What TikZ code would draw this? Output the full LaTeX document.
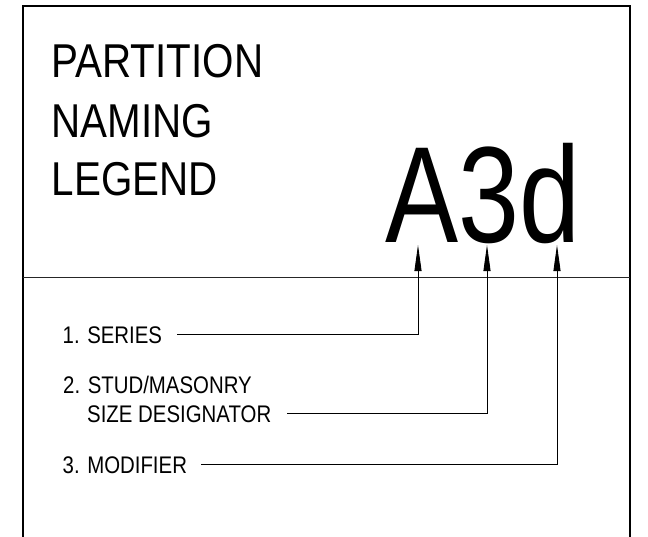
\documentclass[tikz,border=0pt]{standalone}
\usepackage{fontspec}
\setmainfont{Liberation Sans}[FakeStretch=0.85]
\newfontfamily\bigcodefont{Liberation Sans}[FakeStretch=0.80]
\usetikzlibrary{arrows.meta}
\tikzset{
  frame/.style={line width=1.2pt, black},
  divider/.style={line width=1pt, black!85},
  conn/.style={line width=0.9pt, black, -{Triangle[length=26pt,width=7pt]}},
  titletext/.style={anchor=base west, inner sep=0pt, font=\fontsize{47.5}{57}\selectfont},
  itemtext/.style={anchor=base west, inner sep=0pt, font=\fontsize{24}{29}\selectfont},
  codetext/.style={anchor=base west, inner sep=0pt, font=\bigcodefont\fontsize{137}{150}\selectfont}
}
\begin{document}
\begin{tikzpicture}[x=1pt,y=-1pt]
\useasboundingbox (0,0) rectangle (648,536);
% frame
\draw[frame] (23,545) -- (23,6) -- (630,6) -- (630,545);
\draw[divider] (23,277) -- (630,277);
% title
\node[titletext] (title1) at (51.5,77) {PARTITION};
\node[titletext] (title2) at (51.5,137) {NAMING};
\node[titletext] (title3) at (51.5,195) {LEGEND};
% code
\node[codetext] (code) at (385,242) {A3d};
\coordinate (tA) at (418,245);
\coordinate (t3) at (487,245);
\coordinate (td) at (557,245);
% items
\node[itemtext] (series) at (62.5,343) {1. SERIES};
\node[itemtext] (stud) at (63,393) {2. STUD/MASONRY};
\node[itemtext] (size) at (87,422) {SIZE DESIGNATOR};
\node[itemtext] (modifier) at (62.5,473) {3. MODIFIER};
% connectors
\draw[conn] ([xshift=15pt]series.east) -| (tA);
\draw[conn] ([xshift=16pt]size.east) -| (t3);
\draw[conn] ([xshift=14pt]modifier.east) -| (td);
\end{tikzpicture}
\end{document}
